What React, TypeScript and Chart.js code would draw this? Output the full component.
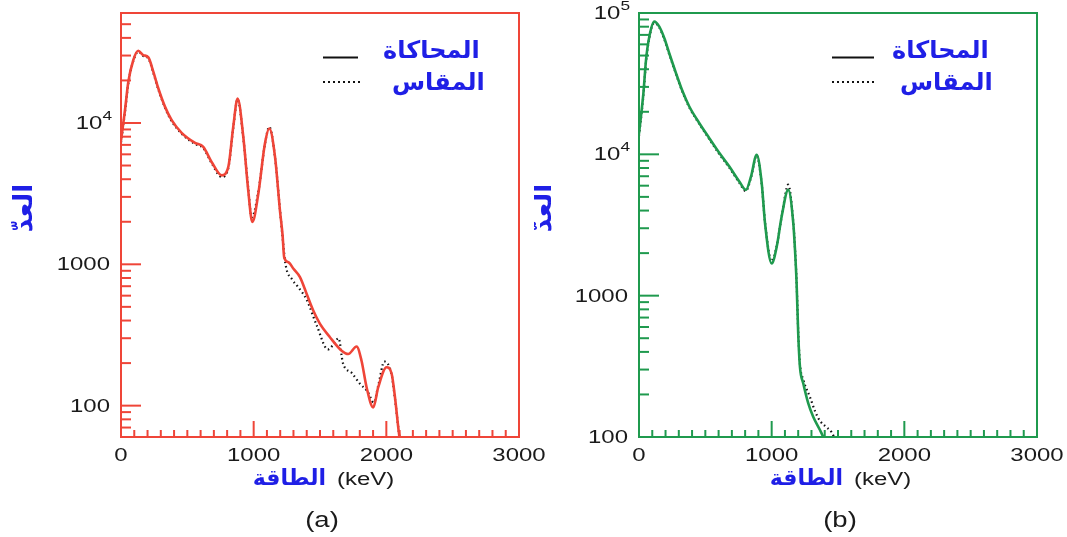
import React, { useEffect, useRef } from 'react';
import { Chart, registerables } from 'chart.js';

Chart.register(...registerables);

// ---------- Panel (a) data ----------
const energyA_sim = [0, 30, 55, 93, 130, 168, 206, 244, 281, 332, 382, 457, 558, 620, 683, 759, 809, 846, 879, 922, 959, 990, 1035, 1085, 1118, 1161, 1198, 1218, 1230, 1265, 1300, 1349, 1399, 1449, 1500, 1575, 1663, 1713, 1776, 1813, 1851, 1901, 1939, 2002, 2040, 2065, 2090, 2102, 2115];
const countsA_sim = [7500, 12300, 19500, 27900, 32400, 30200, 29100, 23000, 17600, 13000, 10470, 8520, 7230, 6770, 5300, 4260, 4890, 9380, 14900, 7960, 3340, 1990, 3160, 7160, 9140, 5750, 2410, 1600, 1120, 1030, 930, 811, 619, 471, 379, 305, 245, 232, 262, 208, 135, 97, 135, 187, 168, 115, 70, 56, 40];
const energyA_meas = [0, 30, 55, 93, 130, 168, 206, 244, 281, 332, 382, 457, 558, 620, 683, 759, 809, 846, 879, 922, 959, 985, 1035, 1085, 1118, 1161, 1198, 1218, 1240, 1290, 1330, 1400, 1475, 1560, 1600, 1640, 1673, 1740, 1801, 1861, 1905, 1940, 1985, 2040, 2065, 2090, 2102, 2115];
const countsA_meas = [7300, 12000, 19000, 27500, 32000, 29800, 28700, 22600, 17300, 12800, 10300, 8400, 7100, 6650, 5200, 4150, 4800, 9200, 14700, 7800, 3450, 2150, 3250, 7100, 9400, 5700, 2450, 1550, 1000, 780, 700, 560, 370, 250, 270, 300, 200, 170, 143, 125, 105, 140, 205, 165, 112, 70, 56, 40];

// ---------- Panel (b) data ----------
const energyB_sim = [0, 33, 53, 78, 115, 153, 191, 228, 279, 329, 379, 455, 530, 606, 681, 756, 806, 844, 887, 925, 950, 1000, 1038, 1075, 1125, 1163, 1176, 1188, 1200, 1213, 1238, 1276, 1313, 1364, 1389, 1420];
const countsB_sim = [14000, 27000, 46600, 68100, 86900, 80100, 66300, 51900, 37500, 27800, 21800, 16600, 13000, 10200, 8190, 6420, 5600, 6950, 9910, 6240, 3250, 1690, 2220, 3620, 5600, 3250, 2100, 1225, 542, 315, 240, 173, 139, 112, 100, 85];
const energyB_meas = [0, 33, 53, 78, 115, 153, 191, 228, 279, 329, 379, 455, 530, 606, 681, 756, 806, 844, 887, 925, 950, 1000, 1038, 1075, 1125, 1163, 1176, 1188, 1200, 1213, 1238, 1290, 1330, 1364, 1410, 1452, 1480];
const countsB_meas = [13500, 26000, 45000, 67000, 85000, 79000, 65000, 51000, 37000, 27400, 21500, 16400, 12800, 10000, 8050, 6300, 5500, 6850, 9800, 6150, 3300, 1750, 2250, 3600, 6100, 3300, 2150, 1250, 560, 330, 255, 190, 150, 130, 118, 108, 95];

// ---------- Axes / labels ----------
const xMajorTicks = [0, 1000, 2000, 3000];
const xTickLabels = ['0', '1000', '2000', '3000'];
const yMajorTicksA = [100, 1000, 10000];
const yTickLabelsA = ['100', '1000', '10^4'];
const yMajorTicksB = [100, 1000, 10000, 100000];
const yTickLabelsB = ['100', '1000', '10^4', '10^5'];
const legendLabels = ['المحاكاة', 'المقاس'];
const xTitleArabic = 'الطاقة';
const xTitleUnit = '(keV)';
const yTitle = 'العدّ';
const panelLabels = ['(a)', '(b)'];

const SX = 1.33;
const NUM_FONT = '"Liberation Sans", Arial, sans-serif';
const AR_FONT = '"DejaVu Sans", sans-serif';
const BLUE = '#1f1fe6';

function minorValues(min: number, max: number, majors: number[]) {
  const out: number[] = [];
  for (let d = 1; d <= 5; d++) {
    for (let k = 2; k <= 9; k++) {
      const v = k * Math.pow(10, d);
      if (v >= min && v <= max && !majors.includes(v)) out.push(v);
    }
  }
  return out;
}

function sText(ctx: CanvasRenderingContext2D, text: string, x: number, y: number, font: string, align: CanvasTextAlign, sx: number, color: string) {
  ctx.save();
  ctx.font = font;
  ctx.fillStyle = color;
  ctx.textBaseline = 'middle';
  ctx.textAlign = align;
  ctx.translate(x, y);
  ctx.scale(sx, 1);
  ctx.fillText(text, 0, 0);
  ctx.restore();
}

const panelPlugin = {
  id: 'panel',
  afterDraw(chart: any, _args: any, o: any) {
    const { ctx, chartArea: ca } = chart;
    const xs = chart.scales.x;
    const ys = chart.scales.y;
    ctx.save();
    ctx.strokeStyle = o.color;
    ctx.lineWidth = 2;
    ctx.strokeRect(ca.left, ca.top, ca.right - ca.left, ca.bottom - ca.top);
    const line = (x1: number, y1: number, x2: number, y2: number) => {
      ctx.beginPath();
      ctx.moveTo(x1, y1);
      ctx.lineTo(x2, y2);
      ctx.stroke();
    };
    // y ticks (inside)
    for (const v of minorValues(ys.min, ys.max, o.yMajor)) {
      const py = ys.getPixelForValue(v);
      line(ca.left, py, ca.left + 10, py);
    }
    for (const v of o.yMajor) {
      const py = ys.getPixelForValue(v);
      line(ca.left, py, ca.left + 20, py);
    }
    // x ticks (inside)
    for (let v = 100; v < 3000; v += 100) {
      const px = xs.getPixelForValue(v);
      const len = xMajorTicks.includes(v) ? 16 : 7;
      line(px, ca.bottom, px, ca.bottom - len);
    }
    // y tick labels
    o.yMajor.forEach((v: number, i: number) => {
      const py = ys.getPixelForValue(v);
      const lab: string = o.yLabels[i];
      const xr = ca.left - 11;
      if (lab.includes('^')) {
        const [base, exp] = lab.split('^');
        ctx.font = `13px ${NUM_FONT}`;
        const ew = ctx.measureText(exp).width * SX;
        sText(ctx, exp, xr + 2, py - 7, `13px ${NUM_FONT}`, 'right', SX, '#1a1a1a');
        sText(ctx, base, xr + 2 - ew, py + 1, `18px ${NUM_FONT}`, 'right', SX, '#1a1a1a');
      } else {
        sText(ctx, lab, xr, py + 1, `18px ${NUM_FONT}`, 'right', SX, '#1a1a1a');
      }
    });
    // x tick labels
    xMajorTicks.forEach((v, i) => {
      const px = xs.getPixelForValue(v);
      sText(ctx, xTickLabels[i], px, ca.bottom + 19.5, `18px ${NUM_FONT}`, 'center', SX, '#1a1a1a');
    });
    // x title
    sText(ctx, xTitleArabic, o.xArRight, 479, `bold 22px ${AR_FONT}`, 'right', 1, BLUE);
    sText(ctx, xTitleUnit, o.xUnitLeft, 480, `18px ${NUM_FONT}`, 'left', SX, '#1a1a1a');
    // panel label
    sText(ctx, o.panelLabel, o.panelX, 521, `22px ${NUM_FONT}`, 'center', 1.25, '#1a1a1a');
    // y title rotated
    ctx.save();
    ctx.translate(o.yTitleX, 208);
    ctx.rotate(-Math.PI / 2);
    ctx.font = `bold 26px ${AR_FONT}`;
    ctx.fillStyle = BLUE;
    ctx.textAlign = 'center';
    ctx.textBaseline = 'middle';
    ctx.fillText(yTitle, 0, 0);
    ctx.restore();
    // legend
    ctx.strokeStyle = '#111';
    ctx.lineWidth = 2;
    line(o.legX1, 57.5, o.legX2, 57.5);
    ctx.fillStyle = '#111';
    for (let x = o.legX1; x <= o.legX2; x += 5) {
      ctx.fillRect(x, 81, 2, 2);
    }
    sText(ctx, legendLabels[0], o.legT1, 52, `bold 24px ${AR_FONT}`, 'left', 1, BLUE);
    sText(ctx, legendLabels[1], o.legT2, 84, `bold 24px ${AR_FONT}`, 'left', 1, BLUE);
    ctx.restore();
  },
};

type PanelCfg = {
  width: number;
  left: number;
  color: string;
  padding: { left: number; right: number; top: number; bottom: number };
  yMin: number;
  yMax: number;
  simX: number[];
  simY: number[];
  measX: number[];
  measY: number[];
  plugin: any;
};

function Panel({ cfg }: { cfg: PanelCfg }) {
  const ref = useRef<HTMLCanvasElement | null>(null);
  useEffect(() => {
    if (!ref.current) return;
    const sim = cfg.simX.map((x, i) => ({ x, y: cfg.simY[i] }));
    const meas = cfg.measX.map((x, i) => ({ x, y: cfg.measY[i] }));
    const chart = new Chart(ref.current, {
      type: 'line',
      data: {
        datasets: [
          {
            label: legendLabels[0],
            data: sim,
            borderColor: cfg.color,
            borderWidth: 2.6,
            pointRadius: 0,
            cubicInterpolationMode: 'monotone',
            fill: false,
          },
          {
            label: legendLabels[1],
            data: meas,
            borderColor: '#111',
            borderWidth: 2.2,
            borderDash: [1.5, 3],
            pointRadius: 0,
            cubicInterpolationMode: 'monotone',
            fill: false,
          },
        ],
      },
      options: {
        responsive: false,
        animation: false,
        events: [],
        layout: { padding: cfg.padding },
        scales: {
          x: { type: 'linear', min: 0, max: 3000, display: false },
          y: { type: 'logarithmic', min: cfg.yMin, max: cfg.yMax, display: false },
        },
        plugins: {
          legend: { display: false },
          tooltip: { enabled: false },
          panel: { ...cfg.plugin, color: cfg.color },
        } as any,
      },
      plugins: [panelPlugin as any],
    });
    return () => chart.destroy();
  }, []);
  return (
    <canvas
      ref={ref}
      width={cfg.width}
      height={537}
      style={{ position: 'absolute', left: cfg.left, top: 0, width: cfg.width, height: 537 }}
    />
  );
}

const cfgA: PanelCfg = {
  width: 565,
  left: 0,
  color: '#ef4538',
  padding: { left: 121, right: 46, top: 13, bottom: 100 },
  yMin: 60,
  yMax: 60000,
  simX: energyA_sim,
  simY: countsA_sim,
  measX: energyA_meas,
  measY: countsA_meas,
  plugin: {
    yMajor: yMajorTicksA,
    yLabels: yTickLabelsA,
    xArRight: 326,
    xUnitLeft: 337,
    panelLabel: panelLabels[0],
    panelX: 322,
    yTitleX: 25,
    legX1: 323,
    legX2: 358,
    legT1: 383,
    legT2: 392,
  },
};

const cfgB: PanelCfg = {
  width: 533,
  left: 534,
  color: '#1f9a4e',
  padding: { left: 105, right: 30, top: 13, bottom: 100 },
  yMin: 100,
  yMax: 100000,
  simX: energyB_sim,
  simY: countsB_sim,
  measX: energyB_meas,
  measY: countsB_meas,
  plugin: {
    yMajor: yMajorTicksB,
    yLabels: yTickLabelsB,
    xArRight: 309,
    xUnitLeft: 320,
    panelLabel: panelLabels[1],
    panelX: 306,
    yTitleX: 10,
    legX1: 298,
    legX2: 340,
    legT1: 358,
    legT2: 366,
  },
};

export default function App() {
  return (
    <div style={{ position: 'absolute', left: 0, top: 0, width: 1067, height: 537, background: '#fff', overflow: 'hidden' }}>
      <Panel cfg={cfgA} />
      <Panel cfg={cfgB} />
    </div>
  );
}
